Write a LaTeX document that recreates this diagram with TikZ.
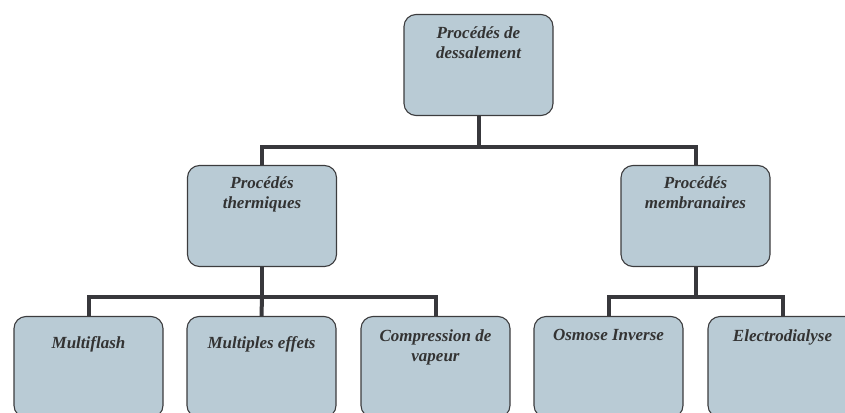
\documentclass[tikz,border=0pt]{standalone}
\usepackage{fontspec}
\setmainfont{Liberation Serif}
\definecolor{boxfill}{HTML}{B9CBD5}
\definecolor{boxline}{HTML}{3C3C3E}
\definecolor{connline}{HTML}{38383C}
\definecolor{txt}{HTML}{333333}
\begin{document}
\begin{tikzpicture}[x=1pt,y=-1pt,
  box/.style={draw=boxline, line width=1.1pt, fill=boxfill, rounded corners=12pt,
    minimum width=149pt, minimum height=101pt, inner sep=0pt},
  lbl/.style={font=\fontsize{17}{20}\selectfont\bfseries\itshape, text=txt, align=center, inner sep=0pt, anchor=north},
  conn/.style={draw=connline, line width=4pt}]
\useasboundingbox (0,0) rectangle (845,412);
% boxes
\node[box] (top) at (478.5,65) {};
\node[box] (therm) at (262,216) {};
\node[box] (memb) at (695.5,216) {};
\node[box] (mf) at (88.5,367) {};
\node[box] (me) at (261.5,367) {};
\node[box] (cv) at (435.5,367) {};
\node[box] (oi) at (608.5,367) {};
\node[box] (ed) at (782.5,367) {};
% labels
\node[lbl] (ttop) at ([yshift=-13pt]top.north) {Procédés de\\dessalement};
\node[lbl] (ttherm) at ([yshift=-12pt]therm.north) {Procédés\\thermiques};
\node[lbl] (tmemb) at ([yshift=-12pt]memb.north) {Procédés\\membranaires};
\node[lbl] (tmf) at ([yshift=-20pt]mf.north) {Multiflash};
\node[lbl] (tme) at ([yshift=-20pt]me.north) {Multiples effets};
\node[lbl] (tcv) at ([yshift=-13.5pt]cv.north) {Compression de\\vapeur};
\node[lbl] (toi) at ([yshift=-13.5pt]oi.north) {Osmose Inverse};
\node[lbl] (ted) at ([yshift=-13.5pt]ed.north) {Electrodialyse};
% buses
\coordinate (b1) at (478.5,147);
\coordinate (b2) at (262,297);
\coordinate (b3) at (695.5,297);
\draw[conn] (top.south) -- (b1);
\draw[conn] (therm.north) |- (b1);
\draw[conn] (memb.north) |- (b1);
\draw[conn] (therm.south) -- (b2);
\draw[conn] (mf.north) |- (b2);
\draw[conn] (me.north) -- (b2);
\draw[conn] (cv.north) |- (b2);
\draw[conn] (memb.south) -- (b3);
\draw[conn] (oi.north) |- (b3);
\draw[conn] (ed.north) |- (b3);
\end{tikzpicture}
\end{document}
